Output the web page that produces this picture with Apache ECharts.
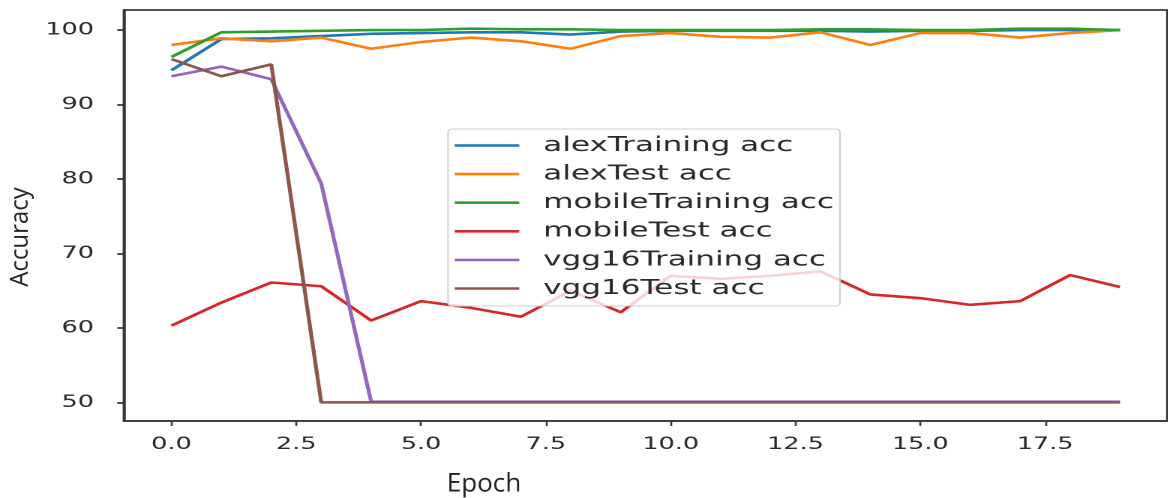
<!DOCTYPE html>
<html>
<head>
<meta charset="utf-8">
<script src="https://cdn.jsdelivr.net/npm/echarts@6/dist/echarts.min.js"></script>
<style>
  html, body { margin: 0; padding: 0; background: #fff; overflow: hidden; }
  #wrap { width: 1168px; height: 498px; overflow: hidden; position: relative; }
  #c { width: 778.667px; height: 498px; transform: scaleX(1.5); transform-origin: 0 0; position: absolute; left: 0; top: 0; }
</style>
</head>
<body>
<div id="wrap"><div id="c"></div></div>
<script>
const epochs = [0, 1, 2, 3, 4, 5, 6, 7, 8, 9, 10, 11, 12, 13, 14, 15, 16, 17, 18, 19];
const alexTraining = [94.6, 98.8, 98.9, 99.2, 99.5, 99.6, 99.7, 99.7, 99.4, 99.8, 99.9, 99.9, 99.9, 99.9, 99.8, 99.9, 99.9, 100.0, 100.0, 100.0];
const alexTest = [98.0, 98.9, 98.5, 99.0, 97.5, 98.4, 99.0, 98.5, 97.5, 99.2, 99.6, 99.1, 99.0, 99.7, 98.0, 99.6, 99.6, 99.0, 99.6, 100.0];
const mobileTraining = [96.4, 99.7, 99.8, 99.9, 100.0, 100.0, 100.2, 100.1, 100.1, 100.0, 100.0, 100.0, 100.0, 100.1, 100.1, 100.0, 100.0, 100.2, 100.2, 100.0];
const mobileTest = [60.3, 63.4, 66.1, 65.6, 61.0, 63.6, 62.7, 61.5, 65.0, 62.1, 67.0, 66.6, 67.0, 67.6, 64.5, 64.0, 63.1, 63.6, 67.1, 65.5];
const vgg16Training = [93.8, 95.1, 93.4, 79.4, 50.1, 50.1, 50.1, 50.1, 50.1, 50.1, 50.1, 50.1, 50.1, 50.1, 50.1, 50.1, 50.1, 50.1, 50.1, 50.1];
const vgg16Test = [96.1, 93.8, 95.4, 50.0, 50.0, 50.0, 50.0, 50.0, 50.0, 50.0, 50.0, 50.0, 50.0, 50.0, 50.0, 50.0, 50.0, 50.0, 50.0, 50.0];
const seriesNames = ['alexTraining acc', 'alexTest acc', 'mobileTraining acc', 'mobileTest acc', 'vgg16Training acc', 'vgg16Test acc'];
const seriesColors = ['#1f77b4', '#ff7f0e', '#2ca02c', '#d62728', '#9467bd', '#8c564b'];
const yTicks = [50, 60, 70, 80, 90, 100];
const xTicks = [0, 2.5, 5, 7.5, 10, 12.5, 15, 17.5];
const xTitle = 'Epoch';
const yTitle = 'Accuracy';

const allSeries = [alexTraining, alexTest, mobileTraining, mobileTest, vgg16Training, vgg16Test];
const SX = 1.5;
const chart = echarts.init(document.getElementById('c'), null, { renderer: 'canvas', devicePixelRatio: 2 });
const textColor = '#2a2a2a';
const spine = '#3a3a3a';

chart.setOption({
  animation: false,
  backgroundColor: '#fff',
  grid: {
    left: 124 / SX, right: 0.7, top: 10, bottom: 77,
    show: true, borderColor: spine, borderWidth: 1.8, backgroundColor: '#fff'
  },
  xAxis: {
    type: 'value', min: -0.95, max: 19.95,
    axisLine: { show: true, onZero: false, lineStyle: { color: spine, width: 1.8 } },
    axisTick: { show: true, customValues: xTicks, length: 5, lineStyle: { color: spine, width: 1.3 } },
    axisLabel: {
      customValues: xTicks, formatter: v => Number(v).toFixed(1),
      fontFamily: 'DejaVu Sans', fontSize: 17, color: textColor, margin: 15
    },
    splitLine: { show: false }
  },
  yAxis: {
    type: 'value', min: 47.5, max: 102.7,
    axisLine: { show: true, onZero: false, lineStyle: { color: spine, width: 1.8 } },
    axisTick: { show: true, customValues: yTicks, length: 4.5, lineStyle: { color: spine, width: 1.8 } },
    axisLabel: {
      customValues: yTicks, formatter: v => String(v),
      fontFamily: 'DejaVu Sans', fontSize: 17, color: textColor, margin: 20
    },
    splitLine: { show: false }
  },
  legend: {
    orient: 'vertical', left: 448 / SX, top: 129,
    data: seriesNames,
    icon: 'rect',
    itemWidth: 43, itemHeight: 2.6, itemGap: 7.6,
    padding: [6, 4, 7, 4.5],
    backgroundColor: 'rgba(255,255,255,0.8)',
    borderColor: '#cfcfcf', borderWidth: 1, borderRadius: 3,
    textStyle: { fontFamily: 'DejaVu Sans', fontSize: 20.7, lineHeight: 20, color: textColor, padding: [0, 0, 0, 11] }
  },
  graphic: [
    {
      type: 'text', x: 14, y: 237, rotation: Math.PI / 2, scaleY: 1 / SX,
      style: { text: yTitle, font: '24px "Open Sans"', fill: '#222', align: 'center', verticalAlign: 'middle' }
    },
    {
      type: 'text', x: 484 / SX, y: 484, scaleX: 1 / SX,
      style: { text: xTitle, font: '26px "Open Sans"', fill: '#222', align: 'center', verticalAlign: 'middle' }
    }
  ],
  series: allSeries.map((vals, k) => ({
    name: seriesNames[k],
    type: 'line',
    symbol: 'none',
    color: seriesColors[k],
    lineStyle: { width: 2.6, color: seriesColors[k] },
    data: epochs.map((e, i) => [e, vals[i]])
  }))
});
</script>
</body>
</html>
